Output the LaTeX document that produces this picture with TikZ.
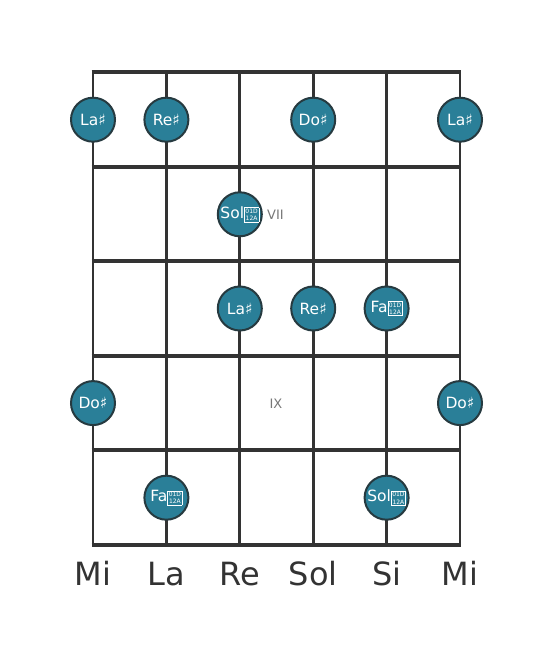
\documentclass[tikz,border=0pt]{standalone}
\usepackage{fontspec}
\setmainfont{DejaVu Sans}
\definecolor{gridc}{HTML}{333333}
\definecolor{notefill}{HTML}{2A7F98}
\definecolor{noteedge}{HTML}{263A40}
\definecolor{labc}{HTML}{777777}
% double sharp (U+1D12A) is in no installed family: drawn as the reference's missing-glyph box
\newcommand{\dsharpbox}{\raisebox{-2.5pt}{\setlength{\fboxsep}{0.8pt}\setlength{\fboxrule}{0.6pt}\fbox{\fontsize{6}{7}\selectfont\shortstack{01D\\12A}}}}
\begin{document}
\begin{tikzpicture}[x=1pt,y=1pt,
  fretline/.style={line width=4pt,draw=gridc},
  stringline/.style={line width=2.8pt,draw=gridc},
  note/.style={circle,minimum size=44pt,inner sep=0pt,fill=notefill,draw=noteedge,line width=2pt,text=white,font=\fontsize{15.5}{15.5}\selectfont},
  fretnum/.style={text=labc,font=\fontsize{13}{13}\selectfont},
  strname/.style={text=gridc,anchor=base,font=\fontsize{32}{32}\selectfont}]
\useasboundingbox (0,0) rectangle (553,656);
% strings
\foreach \i/\x in {1/93,2/166.4,3/239.8,4/313.2,5/386.6,6/460}{
  \coordinate (st\i) at (\x,584);
  \coordinate (sb\i) at (\x,111);
  \draw[stringline] (st\i) -- (sb\i);
}
% frets
\foreach \j/\y in {0/584,1/489.4,2/394.8,3/300.2,4/205.6,5/111}{
  \coordinate (fl\j) at (93-1.4,\y);
  \coordinate (fr\j) at (460+1.4,\y);
  \draw[fretline] (fl\j) -- (fr\j);
}
% notes
\node[note] (n1) at (93,536.3) {La♯};
\node[note] (n2) at (166.4,536.3) {Re♯};
\node[note] (n3) at (313.2,536.3) {Do♯};
\node[note] (n4) at (460,536.3) {La♯};
\node[note] (n5) at (239.8,441.7) {Sol\dsharpbox};
\node[note] (n6) at (239.8,347.5) {La♯};
\node[note] (n7) at (313.2,347.5) {Re♯};
\node[note] (n8) at (386.6,347.5) {Fa\dsharpbox};
\node[note] (n9) at (93,252.9) {Do♯};
\node[note] (n10) at (460,252.9) {Do♯};
\node[note] (n11) at (166.4,158.3) {Fa\dsharpbox};
\node[note] (n12) at (386.6,158.3) {Sol\dsharpbox};
% fret numbers
\node[fretnum] (f7) at (275.5,441.7) {VII};
\node[fretnum] (f9) at (276,252.4) {IX};
% string names
\node[strname] (s1) at (93,70) {Mi};
\node[strname] (s2) at (166.4,70) {La};
\node[strname] (s3) at (239.8,70) {Re};
\node[strname] (s4) at (313.2,70) {Sol};
\node[strname] (s5) at (386.6,70) {Si};
\node[strname] (s6) at (460,70) {Mi};
\end{tikzpicture}
\end{document}
